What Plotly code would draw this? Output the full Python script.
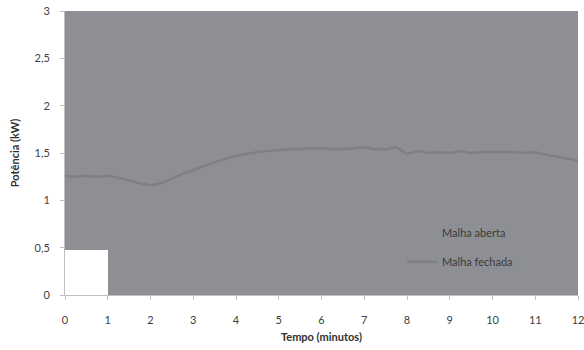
import plotly.graph_objects as go

# Data
tempo = [0, 0.25, 0.5, 0.75, 1.0, 1.25, 1.5, 1.75, 2.0, 2.25, 2.5, 2.75, 3.0,
         3.25, 3.5, 3.75, 4.0, 4.25, 4.5, 4.75, 5.0, 5.25, 5.5, 5.75, 6.0,
         6.25, 6.5, 6.75, 7.0, 7.25, 7.5, 7.75, 8.0, 8.25, 8.5, 8.75, 9.0,
         9.25, 9.5, 9.75, 10.0, 10.25, 10.5, 10.75, 11.0, 11.25, 11.5, 11.75, 12.0]
malha_fechada = [1.26, 1.25, 1.26, 1.25, 1.26, 1.24, 1.21, 1.18, 1.16, 1.18, 1.23, 1.28, 1.32,
                 1.36, 1.40, 1.44, 1.47, 1.49, 1.51, 1.52, 1.53, 1.54, 1.54, 1.55, 1.55,
                 1.54, 1.54, 1.55, 1.56, 1.54, 1.54, 1.56, 1.49, 1.52, 1.50, 1.51, 1.50,
                 1.52, 1.50, 1.51, 1.51, 1.51, 1.51, 1.50, 1.51, 1.48, 1.46, 1.44, 1.42]
malha_aberta_x = [0.5]
malha_aberta_y = [0.48]
x_ticks = list(range(0, 13))
y_ticks = [0, 0.5, 1, 1.5, 2, 2.5, 3]
y_labels = ["0", "0,5", "1", "1,5", "2", "2,5", "3"]

BG = "#8e8f94"
LINE = "#7f8085"
FONT = "Lato, 'Open Sans', sans-serif"

fig = go.Figure()
fig.add_trace(go.Bar(x=malha_aberta_x, y=malha_aberta_y, width=1,
                     marker=dict(color="white", line=dict(width=0)),
                     showlegend=False, hoverinfo="skip"))
fig.add_trace(go.Scatter(x=[None], y=[None], mode="lines", name="Malha aberta",
                         line=dict(color=BG, width=2), legendgroup="a"))
fig.add_trace(go.Scatter(x=tempo, y=malha_fechada, mode="lines", name="Malha fechada",
                         line=dict(color=LINE, width=2.5), legendgroup="b"))

fig.update_layout(
    width=584, height=350,
    margin=dict(l=65, r=0, t=11, b=55),
    paper_bgcolor="white", plot_bgcolor=BG,
    font=dict(family=FONT, size=11, color="#404040"),
    showlegend=True,
    legend=dict(x=0.657, y=0.27, xanchor="left", yanchor="top",
                bgcolor="rgba(0,0,0,0)", traceorder="grouped", tracegroupgap=10,
                font=dict(size=11, color="#3a3a3a")),
    bargap=0,
)
fig.update_xaxes(range=[0, 12], tickvals=x_ticks, ticks="outside", ticklen=4,
                 tickcolor="#bfbfbf", showline=True, linecolor="#bfbfbf", linewidth=1,
                 showgrid=False, zeroline=False, ticklabeloverflow="allow",
                 ticklabelstandoff=11,
                 tickfont=dict(size=11, color="#404040"),
                 title=dict(text="<b>Tempo (minutos)</b>", font=dict(size=11, color="#303030"), standoff=8))
fig.update_yaxes(range=[0, 3], tickvals=y_ticks, ticktext=y_labels, ticks="outside", ticklen=4,
                 tickcolor="#bfbfbf", showline=True, linecolor="#bfbfbf", linewidth=1,
                 showgrid=False, zeroline=False, ticklabeloverflow="allow",
                 ticklabelstandoff=8,
                 tickfont=dict(size=11, color="#404040"),
                 title=dict(text="<b>Potência (kW)</b>", font=dict(size=11, color="#303030"), standoff=12))

fig.write_html("out.html", config={"displayModeBar": False},
               post_script="document.body.style.margin='0';document.body.style.overflow='hidden';")
